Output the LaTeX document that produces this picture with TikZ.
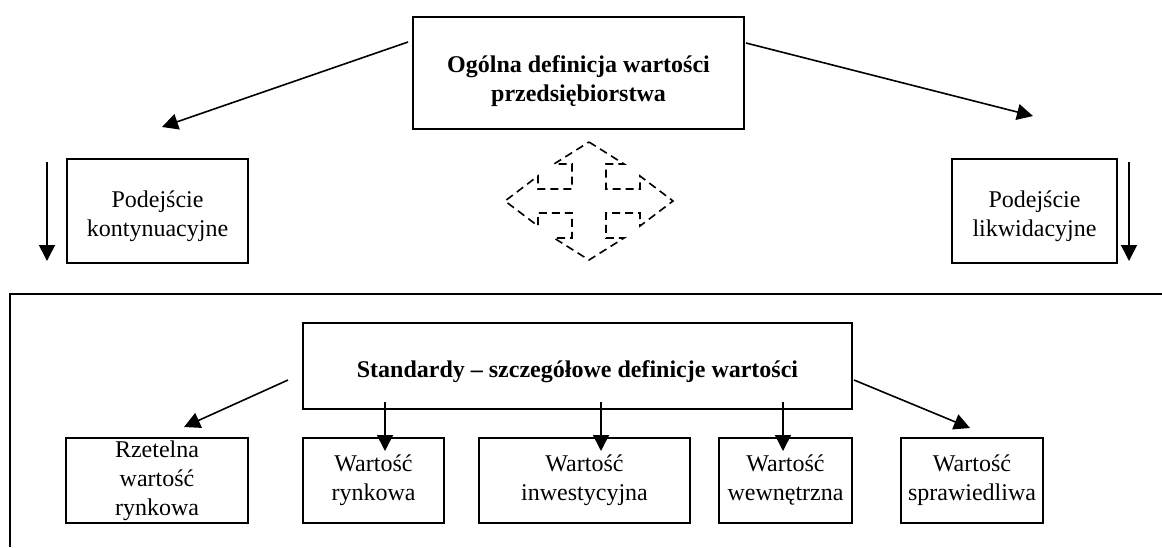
\documentclass[tikz,border=0pt]{standalone}
\usepackage{fontspec}
\setmainfont{Liberation Serif}
\usetikzlibrary{arrows.meta,calc}
\newcommand{\lift}[1]{\rule{0pt}{#1}}
\begin{document}
\begin{tikzpicture}[x=0.5pt,y=-0.5pt,
  box/.style={draw, line width=1pt, inner sep=0pt, align=center,
    font=\fontsize{12pt}{14.5pt}\selectfont},
  boldbox/.style={box, font=\fontsize{12pt}{14.5pt}\selectfont\bfseries},
  arr/.style={line width=0.8pt, -{Triangle[length=8pt,width=8pt]}},
  dashedarrow/.style={line width=0.8pt, dash pattern=on 4pt off 2.5pt}
]
\useasboundingbox (0,0) rectangle (1162,547);

% upper part: general definition and the two approaches
\node[boldbox, minimum width=165.5pt, minimum height=56pt] (general) at (578.5,73)
  {\lift{17pt}Ogólna definicja wartości\\przedsiębiorstwa};
\node[box, minimum width=90.5pt, minimum height=52pt] (going) at (157.5,211)
  {\lift{14pt}Podejście\\kontynuacyjne};
\node[box, minimum width=82.5pt, minimum height=52pt] (liquid) at (1034.5,211)
  {\lift{14pt}Podejście\\likwidacyjne};

% frame around the standards
\coordinate (frameR) at (1162,294);
\coordinate (frameC) at (10,294);
\coordinate (frameB) at (10,547);
\draw[line width=1pt] (frameR) -- (frameC) -- (frameB);

% standards and the detailed definitions
\node[boldbox, minimum width=274.5pt, minimum height=43pt] (std) at (577.5,366)
  {\lift{14pt}Standardy – szczegółowe definicje wartości};
\node[box, minimum width=91pt, minimum height=42.5pt] (fmv) at (157,480.5)
  {Rzetelna\\wartość\\rynkowa};
\node[box, minimum width=70.5pt, minimum height=42.5pt] (mv) at (373.5,480.5)
  {Wartość\\rynkowa};
\node[box, minimum width=105.5pt, minimum height=42.5pt] (iv) at (584.5,480.5)
  {Wartość\\inwestycyjna};
\node[box, minimum width=66.5pt, minimum height=42.5pt] (intr) at (785.5,480.5)
  {Wartość\\wewnętrzna};
\node[box, minimum width=71pt, minimum height=42.5pt] (fv) at (972,480.5)
  {Wartość\\sprawiedliwa};

% arrows from the general definition
\draw[arr] ($(general.north west)+(-4,26)$) -- ($(going.north)+(4.5,-31)$);
\draw[arr] ($(general.north east)+(1,27)$) -- ($(liquid.north)+(-1.5,-42)$);
\draw[arr] ($(going.north west)+(-19,4)$) -- ($(going.south west)+(-19,-3)$);
\draw[arr] ($(liquid.north east)+(11,4)$) -- ($(liquid.south east)+(11,-3)$);

% arrows from the standards
\draw[arr] ($(std.west)+(-14,14)$) -- ($(fmv.north)+(27,-10)$);
\draw[arr] ($(std.east)+(1,14)$) -- ($(fv.north)+(-2,-9)$);
\draw[arr] ($(mv.north)+(11.5,-35)$) -- ($(mv.north)+(11.5,14)$);
\draw[arr] ($(iv.north)+(16.5,-35)$) -- ($(iv.north)+(16.5,14)$);
\draw[arr] ($(intr.north)+(-2.5,-35)$) -- ($(intr.north)+(-2.5,14)$);

% dashed four-way arrow
\begin{scope}[shift={(589,201)}]
\draw[dashedarrow] (0,-59) -- (35,-37) -- (17,-37) -- (17,-12) -- (51,-12) -- (51,-25)
  -- (84,0) -- (51,25) -- (51,12) -- (17,12) -- (17,37) -- (35,37) -- (0,59)
  -- (-35,37) -- (-17,37) -- (-17,12) -- (-51,12) -- (-51,25) -- (-84,0)
  -- (-51,-25) -- (-51,-12) -- (-17,-12) -- (-17,-37) -- (-35,-37) -- cycle;
\end{scope}
\end{tikzpicture}
\end{document}
